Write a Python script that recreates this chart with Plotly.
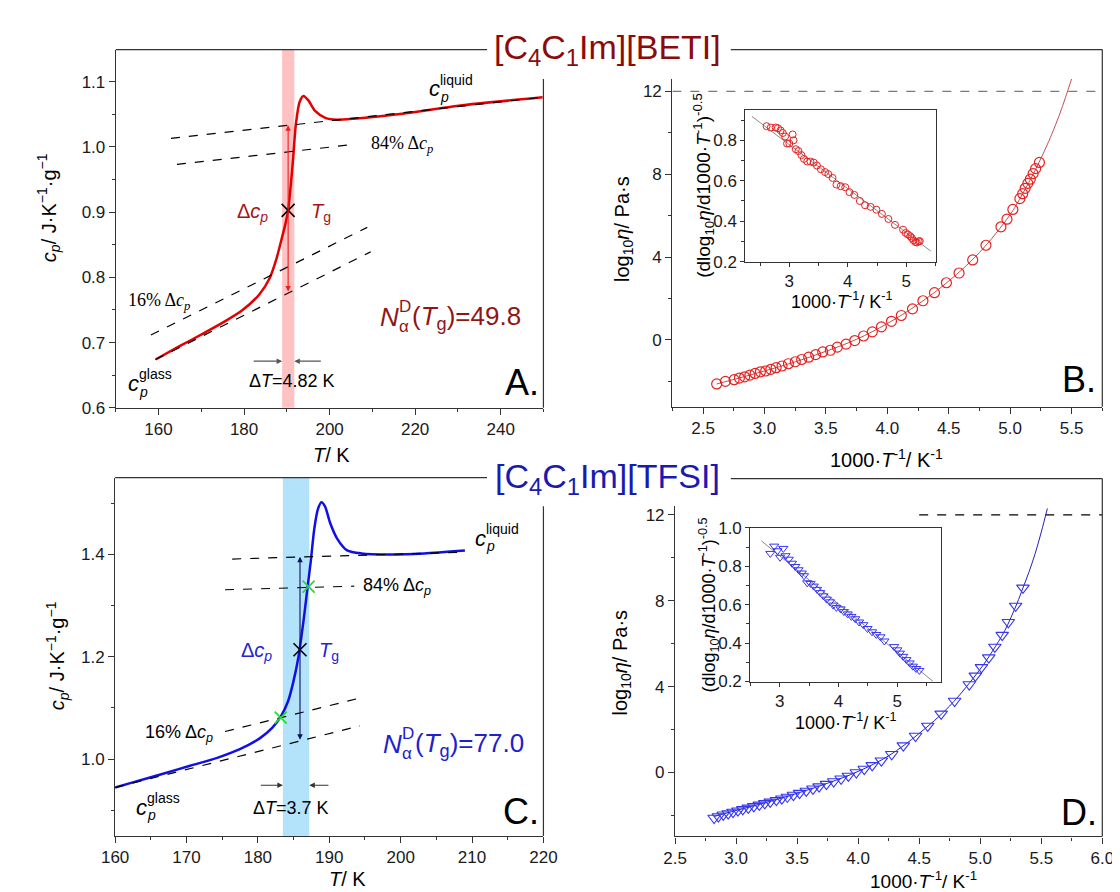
import plotly.graph_objects as go

W, H = 1120, 892
def px(x): return x / W
def py(y): return 1 - y / H

# ------------------------- DATA -------------------------
# Panel A  [C4C1Im][BETI]  cp(T)
A_T = [159.3, 164.8, 170.5, 175.4, 179.5, 183.6, 186.0, 187.6, 188.9, 189.6, 190.3, 190.9, 191.5,
       192.1, 193.0, 193.9, 195.0, 196.6, 199.1, 201.6, 205.6, 217.9, 230.2, 249.8]
A_cp = [0.674, 0.694, 0.714, 0.732, 0.749, 0.774, 0.799, 0.829, 0.862, 0.880, 0.9025, 0.940, 0.985,
        1.034, 1.069, 1.078, 1.0715, 1.055, 1.044, 1.0415, 1.043, 1.0515, 1.063, 1.076]
A_liq_T, A_liq_cp = [162.9, 249.8], [1.013, 1.076]
A_84_T, A_84_cp = [164.3, 206.1], [0.973, 1.004]
A_16_T, A_16_cp = [158.2, 208.8], [0.7115, 0.8765]
A_gl_T, A_gl_cp = [159.3, 209.6], [0.674, 0.839]
A_Tg, A_Tg_cp = 190.3, 0.9025
A_band = [188.9, 191.75]
A_arrow_lo, A_arrow_hi = 0.776, 1.033

# Panel C  [C4C1Im][TFSI]  cp(T)
C_T = [160, 162.6, 166.6, 170.5, 174.4, 177.4, 180.3, 182.0, 183.2, 184.2, 184.95, 185.7, 186.4, 186.9,
       187.4, 187.9, 188.4, 188.9, 189.4, 190.1, 191.1, 192.5, 194.5, 198.4, 203.3, 209.0]
C_cp = [0.9445, 0.955, 0.971, 0.987, 1.003, 1.019, 1.041, 1.061, 1.083, 1.112, 1.150, 1.201, 1.271, 1.329,
        1.386, 1.450, 1.488, 1.502, 1.494, 1.4625, 1.431, 1.408, 1.402, 1.400, 1.402, 1.4075]
C_liq_T, C_liq_cp = [176.4, 209.0], [1.391, 1.4045]
C_84_T, C_84_cp = [175.4, 193.5], [1.331, 1.338]
C_16_T, C_16_cp = [175.4, 194.75], [1.054, 1.121]
C_gl_T, C_gl_cp = [160.0, 194.3], [0.9445, 1.065]
C_Tg, C_Tg_cp = 185.9, 1.2137
C_green_T, C_green_cp = [183.2, 187.1], [1.081, 1.337]
C_band = [183.5, 187.2]
C_arrow_lo, C_arrow_hi = 1.035, 1.3955

# Panel B  log10 eta vs 1000/T  (BETI)
B_x = [2.611, 2.682, 2.753, 2.796, 2.839, 2.881, 2.924, 2.967, 3.010, 3.052, 3.095, 3.143, 3.195, 3.251,
       3.303, 3.360, 3.417, 3.474, 3.536, 3.593, 3.664, 3.735, 3.807, 3.878, 3.952, 4.034, 4.114, 4.205,
       4.290, 4.384, 4.481, 4.584, 4.695, 4.803, 4.925, 4.974, 5.022, 5.079, 5.102, 5.122, 5.144, 5.164,
       5.187, 5.207, 5.238]
B_y = [-2.126, -2.0, -1.92, -1.84, -1.78, -1.70, -1.62, -1.54, -1.50, -1.42, -1.34, -1.26, -1.15, -1.055,
       -0.945, -0.835, -0.71, -0.58, -0.50, -0.35, -0.205, -0.03, 0.19, 0.39, 0.63, 0.90, 1.18, 1.50,
       1.89, 2.28, 2.76, 3.23, 3.86, 4.57, 5.46, 5.83, 6.30, 6.82, 7.06, 7.32, 7.56, 7.76,
       8.03, 8.27, 8.57]
B_fit_x = [2.611, 2.8, 3.0, 3.25, 3.5, 3.75, 4.0, 4.25, 4.5, 4.75, 5.0, 5.1, 5.2, 5.3, 5.35, 5.4, 5.45, 5.5]
B_fit_y = [-2.126, -1.83, -1.50, -1.06, -0.55, 0.03, 0.79, 1.72, 2.84, 4.22, 6.05, 7.04, 8.15, 9.40, 10.1,
           10.85, 11.7, 12.6]

# Panel B inset
Bi_x = [2.611, 2.683, 2.767, 2.806, 2.85, 2.889, 2.928, 2.961, 3.0, 3.056, 3.072, 3.111, 3.156, 3.206,
        3.25, 3.306, 3.361, 3.417, 3.472, 3.539, 3.611, 3.667, 3.739, 3.806, 3.878, 3.956, 4.028, 4.111,
        4.206, 4.294, 4.389, 4.489, 4.583, 4.694, 4.806, 4.944, 4.989, 5.028, 5.067, 5.094, 5.122, 5.156,
        5.18, 5.21, 5.23]
Bi_y = [0.870, 0.863, 0.863, 0.860, 0.849, 0.836, 0.819, 0.784, 0.784, 0.829, 0.800, 0.756, 0.747, 0.727,
        0.708, 0.695, 0.695, 0.690, 0.675, 0.657, 0.643, 0.633, 0.614, 0.581, 0.573, 0.568, 0.544, 0.530,
        0.500, 0.479, 0.471, 0.457, 0.436, 0.411, 0.382, 0.358, 0.342, 0.334, 0.326, 0.317, 0.306, 0.297,
        0.295, 0.300, 0.302]
Bi_line_x, Bi_line_y = [2.36, 5.42], [0.918, 0.252]

# Panel D  log10 eta vs 1000/T  (TFSI)
D_x = [2.82, 2.855, 2.895, 2.935, 2.975, 3.015, 3.055, 3.10, 3.145, 3.19, 3.235, 3.28, 3.33, 3.375, 3.42,
       3.47, 3.52, 3.575, 3.63, 3.68, 3.74, 3.80, 3.86, 3.92, 3.985, 4.05, 4.115, 4.19, 4.275, 4.37, 4.47,
       4.57, 4.68, 4.79, 4.91, 4.96, 5.01, 5.07, 5.12, 5.18, 5.23, 5.29, 5.35]
D_y = [-2.12, -2.05, -1.97, -1.91, -1.84, -1.78, -1.72, -1.65, -1.58, -1.51, -1.44, -1.37, -1.29, -1.22,
       -1.14, -1.05, -0.96, -0.86, -0.76, -0.66, -0.54, -0.42, -0.29, -0.16, 0.0, 0.16, 0.33, 0.55, 0.85,
       1.25, 1.7, 2.17, 2.73, 3.33, 4.1, 4.5, 4.9, 5.35, 5.85, 6.4, 7.0, 7.76, 8.6]
D_fit_x = [2.82, 3.0, 3.25, 3.5, 3.75, 4.0, 4.25, 4.5, 4.75, 5.0, 5.1, 5.2, 5.3, 5.35, 5.4, 5.45, 5.5, 5.55]
D_fit_y = [-2.05, -1.77, -1.39, -0.97, -0.50, 0.05, 0.78, 1.82, 3.10, 4.82, 5.65, 6.60, 7.86, 8.6, 9.35,
           10.2, 11.2, 12.3]

# Panel D inset
Di_x = [2.840, 2.906, 2.961, 3.006, 3.061, 3.099, 3.154, 3.209, 3.264, 3.320, 3.375, 3.413, 3.468, 3.523,
        3.579, 3.634, 3.689, 3.744, 3.799, 3.854, 3.909, 3.964, 4.036, 4.091, 4.157, 4.218, 4.284, 4.350,
        4.421, 4.493, 4.570, 4.642, 4.713, 4.780, 4.945, 5.0, 5.044, 5.099, 5.154, 5.209, 5.264, 5.320, 5.375]
Di_y = [0.867, 0.905, 0.881, 0.847, 0.893, 0.855, 0.837, 0.816, 0.799, 0.782, 0.765, 0.751, 0.714, 0.711,
        0.697, 0.680, 0.663, 0.646, 0.629, 0.615, 0.598, 0.586, 0.578, 0.564, 0.552, 0.539, 0.527, 0.510,
        0.496, 0.476, 0.459, 0.445, 0.433, 0.411, 0.382, 0.365, 0.348, 0.331, 0.314, 0.297, 0.280, 0.268, 0.258]
Di_line_x, Di_line_y = [2.69, 5.61], [0.932, 0.2]

GLASS_LINE = 12

# ------------------------- STYLE -------------------------
SANS = "Liberation Sans, Arial, sans-serif"
SERIF = "Liberation Serif, Times New Roman, serif"
LBLRED = "#A51515"
RED = "#E30000"
BLUE = "#1010E6"
AXC = "#333333"

fig = go.Figure()

def dash(x, y, xa, ya, color="black", width=1.2):
    fig.add_trace(go.Scatter(x=x, y=y, xaxis=xa, yaxis=ya, mode="lines",
                             line=dict(color=color, width=width, dash="dash"), hoverinfo="skip"))

# Panel A
fig.add_trace(go.Scatter(x=A_T, y=A_cp, xaxis="x", yaxis="y", mode="lines",
                         line=dict(color=RED, width=2.5, shape="spline", smoothing=0.7)))
for xs, ys in [(A_liq_T, A_liq_cp), (A_84_T, A_84_cp), (A_16_T, A_16_cp), (A_gl_T, A_gl_cp)]:
    dash(xs, ys, "x", "y")
fig.add_trace(go.Scatter(x=[A_Tg], y=[A_Tg_cp], xaxis="x", yaxis="y", mode="markers",
                         marker=dict(symbol="x-thin", size=13, line=dict(width=1.6, color="black"))))

# Panel C
fig.add_trace(go.Scatter(x=C_T, y=C_cp, xaxis="x3", yaxis="y3", mode="lines",
                         line=dict(color=BLUE, width=2.5, shape="spline", smoothing=0.7)))
for xs, ys in [(C_liq_T, C_liq_cp), (C_84_T, C_84_cp), (C_16_T, C_16_cp), (C_gl_T, C_gl_cp)]:
    dash(xs, ys, "x3", "y3")
fig.add_trace(go.Scatter(x=[C_Tg], y=[C_Tg_cp], xaxis="x3", yaxis="y3", mode="markers",
                         marker=dict(symbol="x-thin", size=13, line=dict(width=1.6, color="black"))))
fig.add_trace(go.Scatter(x=C_green_T, y=C_green_cp, xaxis="x3", yaxis="y3", mode="markers",
                         marker=dict(symbol="x-thin", size=12, line=dict(width=1.6, color="#22DD22"))))

# Panel B
dash([2.25, 5.75], [GLASS_LINE, GLASS_LINE], "x2", "y2", color="#7a7a7a", width=1.2)
fig.add_trace(go.Scatter(x=B_fit_x, y=B_fit_y, xaxis="x2", yaxis="y2", mode="lines",
                         line=dict(color="#C05050", width=1, shape="spline")))
fig.add_trace(go.Scatter(x=B_x, y=B_y, xaxis="x2", yaxis="y2", mode="markers",
                         marker=dict(symbol="circle-open", size=10, color="#E52222", line=dict(width=1.2))))
fig.add_trace(go.Scatter(x=Bi_line_x, y=Bi_line_y, xaxis="x5", yaxis="y5", mode="lines",
                         line=dict(color="#8a8a8a", width=1)))
fig.add_trace(go.Scatter(x=Bi_x, y=Bi_y, xaxis="x5", yaxis="y5", mode="markers",
                         marker=dict(symbol="circle-open", size=7, color="#E52222", line=dict(width=1))))

# Panel D
dash([4.5, 6.0], [GLASS_LINE, GLASS_LINE], "x4", "y4", color="black", width=1.2)
fig.add_trace(go.Scatter(x=D_fit_x, y=D_fit_y, xaxis="x4", yaxis="y4", mode="lines",
                         line=dict(color="#2020C0", width=1, shape="spline")))
fig.add_trace(go.Scatter(x=D_x, y=D_y, xaxis="x4", yaxis="y4", mode="markers",
                         marker=dict(symbol="triangle-down-open", size=11, color="#3535F0", line=dict(width=1.1))))
fig.add_trace(go.Scatter(x=Di_line_x, y=Di_line_y, xaxis="x6", yaxis="y6", mode="lines",
                         line=dict(color="#8a8a8a", width=1)))
fig.add_trace(go.Scatter(x=Di_x, y=Di_y, xaxis="x6", yaxis="y6", mode="markers",
                         marker=dict(symbol="triangle-down-open", size=8, color="#3535F0", line=dict(width=1))))

# ------------------------- AXES -------------------------
def axis(domain, rng, tick0, dtick, minor, anchor, fmt=None, fs=17, mirror=False, ticklen=6):
    d = dict(domain=domain, range=rng, tick0=tick0, dtick=dtick, anchor=anchor,
             ticks="outside", ticklen=ticklen, tickwidth=1.2, tickcolor=AXC,
             showline=True, linecolor=AXC, linewidth=1.2, mirror=mirror,
             showgrid=False, zeroline=False, fixedrange=True,
             tickfont=dict(family=SANS, size=fs, color="#1a1a1a"),
             minor=dict(tick0=tick0, dtick=minor, ticks="outside", ticklen=3, tickwidth=1,
                        tickcolor=AXC, showgrid=False))
    if fmt:
        d["tickformat"] = fmt
    return d

A_dx = [px(96.2), px(534.8)]; A_dy = [py(399.3), py(33.3)]
B_dx = [px(667), px(1108)];   B_dy = [py(398.3), py(63.3)]
C_dx = [px(95.5), px(534.8)]; C_dy = [py(836.7), py(470.7)]
D_dx = [px(669.8), px(1108)]; D_dy = [py(837.3), py(500)]
Bi_dx = [px(742), px(937)];   Bi_dy = [py(250), py(95)]
Di_dx = [px(747), px(943)];   Di_dy = [py(679), py(522)]

fig.update_layout(
    xaxis=axis(A_dx, [150, 250], 160, 20, 10, "y"),
    yaxis=axis(A_dy, [0.6, 1.149], 0.6, 0.1, 0.05, "x", fmt=".1f"),
    xaxis2=axis(B_dx, [2.25, 5.75], 2.5, 0.5, 0.25, "y2", fmt=".1f"),
    yaxis2=axis(B_dy, [-3.23, 12.6], 0, 4, 2, "x2"),
    xaxis3=axis(C_dx, [160, 220], 160, 10, 5, "y3"),
    yaxis3=axis(C_dy, [0.85, 1.55], 1.0, 0.2, 0.1, "x3", fmt=".1f"),
    xaxis4=axis(D_dx, [2.5, 6.0], 2.5, 0.5, 0.25, "y4", fmt=".1f"),
    yaxis4=axis(D_dy, [-2.98, 12.4], 0, 4, 2, "x4"),
    xaxis5=axis(Bi_dx, [2.25, 5.5], 3, 1, 0.5, "y5", fs=17, mirror=True, ticklen=4),
    yaxis5=axis(Bi_dy, [0.2, 0.95], 0.2, 0.2, 0.1, "x5", fmt=".1f", fs=17, mirror=True, ticklen=4),
    xaxis6=axis(Di_dx, [2.5, 5.75], 3, 1, 0.5, "y6", fs=17, mirror=True, ticklen=4),
    yaxis6=axis(Di_dy, [0.2, 1.0], 0.2, 0.2, 0.1, "x6", fmt=".1f", fs=17, mirror=True, ticklen=4),
)

# ------------------------- SHAPES -------------------------
shapes = [
    dict(type="rect", xref="x", yref="y domain", x0=A_band[0], x1=A_band[1], y0=0, y1=1,
         fillcolor="#FFC2C2", line=dict(width=0), layer="below"),
    dict(type="rect", xref="x3", yref="y3 domain", x0=C_band[0], x1=C_band[1], y0=0, y1=1,
         fillcolor="#B3E3FA", line=dict(width=0), layer="below"),
]
frame = [((96.2, 33.3), (477, 33.3)), ((534.8, 63.3), (534.8, 399.3)),
         ((727, 33.3), (1108, 33.3)), ((1108, 33.3), (1108, 398.3)),
         ((95.5, 470.7), (477, 470.7)), ((534.8, 500), (534.8, 836.7)),
         ((727, 471.7), (1108, 471.7)), ((1108, 471.7), (1108, 837.3))]
for (x0, y0), (x1, y1) in frame:
    shapes.append(dict(type="line", xref="paper", yref="paper", x0=px(x0), y0=py(y0), x1=px(x1), y1=py(y1),
                       line=dict(color=AXC, width=1.2)))
fig.update_layout(shapes=shapes)

# ------------------------- ANNOTATIONS -------------------------
ann = []
def txt(x, y, text, xr, yr, size=18, color="black", family=SANS, xanchor="center", yanchor="middle",
        angle=0, xshift=0, yshift=0):
    ann.append(dict(x=x, y=y, xref=xr, yref=yr, text=text, showarrow=False, xanchor=xanchor, yanchor=yanchor,
                    textangle=angle, xshift=xshift, yshift=yshift,
                    font=dict(size=size, color=color, family=family)))

def stacked(x, y, xr, yr, base, base_w, sup, sub, size, sub_size, color="black", rest=None, rest_shift=0):
    # base glyph with stacked superscript / subscript (Origin-style)
    txt(x, y, base, xr, yr, size=size, color=color, xanchor="left")
    txt(x, y, sup, xr, yr, size=sub_size, color=color, xanchor="left", xshift=base_w, yshift=size * 0.42)
    txt(x, y, sub, xr, yr, size=sub_size, color=color, xanchor="left", xshift=base_w, yshift=-size * 0.36)
    if rest:
        txt(x, y, rest, xr, yr, size=size, color=color, xanchor="left", xshift=rest_shift)

def arrow(x0, y0, x1, y1, xr, yr, color, side="end", width=1.1, head=2, size=1.0):
    ann.append(dict(x=x1, y=y1, ax=x0, ay=y0, xref=xr, yref=yr, axref=xr, ayref=yr, text="",
                    showarrow=True, arrowhead=head, startarrowhead=head, arrowsize=size, startarrowsize=size,
                    arrowwidth=width, arrowcolor=color, arrowside=side, standoff=0, startstandoff=0))

dcp = "Δ<i>c</i><sub><i>p</i></sub>"
tg = "<i>T</i><sub>g</sub>"

# titles
txt(px(601), py(33), "[C<sub>4</sub>C<sub>1</sub>Im][BETI]", "paper", "paper", size=34, color="#8B0B0B")
txt(px(600), py(472), "[C<sub>4</sub>C<sub>1</sub>Im][TFSI]", "paper", "paper", size=34, color="#1A1AB0")

# axis titles
ytitle_cp = "<i>c</i><sub><i>p</i></sub>/ J·K<sup>−1</sup>·g<sup>−1</sup>"
txt(px(28), py(195), ytitle_cp, "paper", "paper", size=20, angle=-90)
txt(px(36), py(653), ytitle_cp, "paper", "paper", size=20, angle=-90)
txt(px(317), py(448), "<i>T</i>/ K", "paper", "paper", size=20)
txt(px(334), py(881), "<i>T</i>/ K", "paper", "paper", size=20)
eta_t = "log<sub>10</sub><i>η</i>/ Pa·s"
txt(px(617), py(217), eta_t, "paper", "paper", size=20, angle=-90)
txt(px(615), py(660), eta_t, "paper", "paper", size=20, angle=-90)
invT = "1000·<i>T</i><sup>-1</sup>/ K<sup>-1</sup>"
txt(px(887), py(451), invT, "paper", "paper", size=20)
txt(px(925), py(882), invT, "paper", "paper", size=19)
ins_y = "(dlog<sub>10</sub><i>η</i>/d1000·<i>T</i><sup>-1</sup>)<sup>-0.5</sup>"
txt(px(699), py(172), ins_y, "paper", "paper", size=19, angle=-90)
txt(px(704), py(601), ins_y, "paper", "paper", size=18, angle=-90)
txt(px(840), py(290), invT, "paper", "paper", size=18)
txt(px(845), py(720), invT, "paper", "paper", size=18)

# Panel A texts
stacked(222.8, 1.089, "x", "y", "<i>c</i>", 11, "liquid", "<i>p</i>", 22, 14)
txt(209.2, 1.004, "84% " + dcp, "x", "y", size=18, family=SERIF, xanchor="left")
txt(181.9, 0.899, dcp, "x", "y", size=20, color=LBLRED)
txt(198.1, 0.899, tg, "x", "y", size=20, color=LBLRED)
txt(152.3, 0.763, "16% " + dcp, "x", "y", size=18, family=SERIF, xanchor="left")
stacked(211.4, 0.739, "x", "y", "<i>N</i>", 19, "D", "α", 26, 17, color="#8E1616",
        rest="(<i>T</i><sub>g</sub>)=49.8", rest_shift=32)
stacked(152.5, 0.637, "x", "y", "<i>c</i>", 11, "glass", "<i>p</i>", 22, 14)
txt(191.3, 0.6415, "Δ<i>T</i>=4.82 K", "x", "y", size=18)
txt(244.9, 0.639, "A.", "x", "y", size=36)
arrow(A_Tg, A_arrow_lo, A_Tg, A_arrow_hi, "x", "y", "#E82020", side="end+start", width=1.1, head=2, size=1.0)
arrow(181.9, 0.6715, A_band[0], 0.6715, "x", "y", "#555555", head=2, size=1.0)
arrow(198.3, 0.6715, A_band[1], 0.6715, "x", "y", "#555555", head=2, size=1.0)

# Panel C texts
stacked(210.2, 1.432, "x3", "y3", "<i>c</i>", 11, "liquid", "<i>p</i>", 22, 14)
txt(194.5, 1.338, "84% " + dcp, "x3", "y3", size=18, xanchor="left")
txt(179.8, 1.2105, dcp, "x3", "y3", size=20, color="#2424D0")
txt(190.0, 1.2105, tg, "x3", "y3", size=20, color="#2424D0")
txt(163.9, 1.051, "16% " + dcp, "x3", "y3", size=18, xanchor="left")
stacked(197.2, 1.0287, "x3", "y3", "<i>N</i>", 19, "D", "α", 26, 17, color="#2020CC",
        rest="(<i>T</i><sub>g</sub>)=77.0", rest_shift=32)
stacked(162.6, 0.906, "x3", "y3", "<i>c</i>", 11, "glass", "<i>p</i>", 22, 14)
txt(184.7, 0.904, "Δ<i>T</i>=3.7 K", "x3", "y3", size=18)
txt(216.8, 0.898, "C.", "x3", "y3", size=36)
arrow(C_Tg, C_arrow_lo, C_Tg, C_arrow_hi, "x3", "y3", "#101060", side="end+start", width=1.1, head=2, size=1.0)
arrow(180.2, 0.949, C_band[0], 0.949, "x3", "y3", "#333333", head=2, size=1.0)
arrow(190.1, 0.949, C_band[1], 0.949, "x3", "y3", "#333333", head=2, size=1.0)

# Panel labels B, D
txt(5.557, -1.89, "B.", "x2", "y2", size=36)
txt(5.807, -1.88, "D.", "x4", "y4", size=36)

fig.update_layout(annotations=ann)

fig.update_layout(width=W, height=H, margin=dict(l=0, r=0, t=0, b=0), showlegend=False,
                  paper_bgcolor="white", plot_bgcolor="white",
                  font=dict(family=SANS, color="black"))

fig.write_html("out.html")
